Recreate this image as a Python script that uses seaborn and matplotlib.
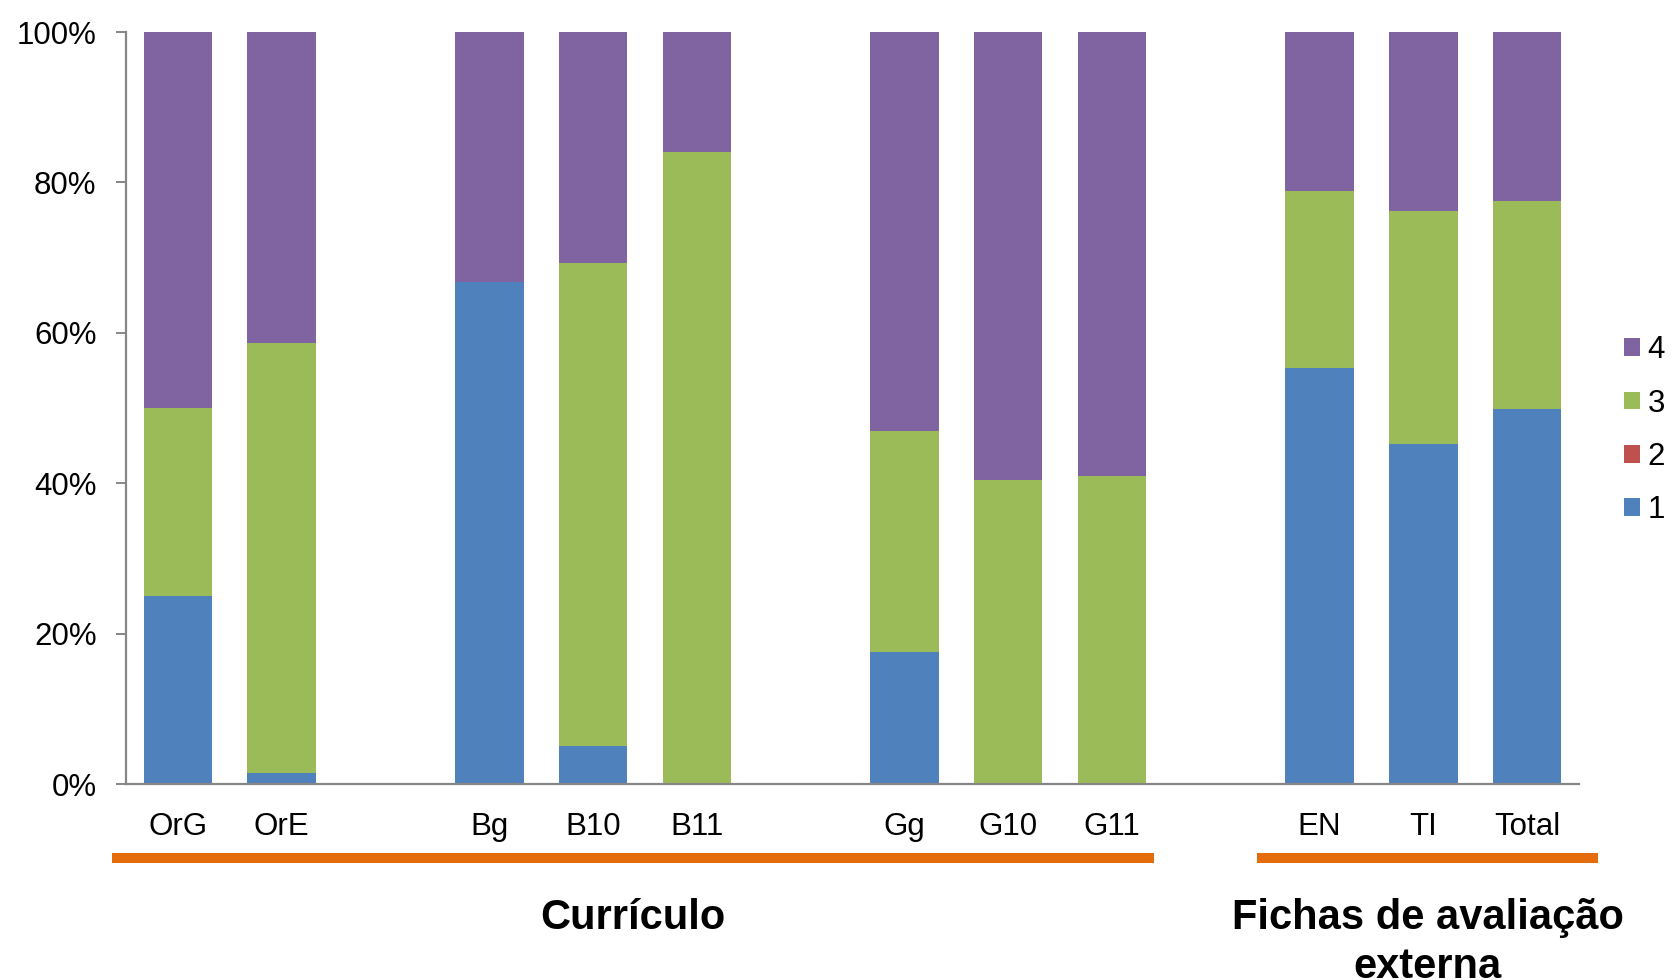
import numpy as np
import pandas as pd
import seaborn as sns
import matplotlib.pyplot as plt
from matplotlib.patches import Patch
from matplotlib.transforms import blended_transform_factory

# Categories (blank slots separate the groups on the axis)
categories = ["OrG", "OrE", "Bg", "B10", "B11", "Gg", "G10", "G11", "EN", "TI", "Total"]
order = ["OrG", "OrE", " ", "Bg", "B10", "B11", "  ", "Gg", "G10", "G11", "   ", "EN", "TI", "Total"]

# Share of each level (%) per category
level1 = [25.0, 1.4, 66.7, 5.0, 0.0, 17.6, 0.0, 0.0, 55.3, 45.2, 49.9]
level2 = [0.0, 0.0, 0.0, 0.0, 0.0, 0.0, 0.0, 0.0, 0.0, 0.0, 0.0]
level3 = [25.0, 57.2, 0.0, 64.3, 84.0, 29.4, 40.4, 41.0, 23.6, 31.0, 27.6]
level4 = [50.0, 41.4, 33.3, 30.7, 16.0, 53.0, 59.6, 59.0, 21.1, 23.8, 22.5]

levels = ["1", "2", "3", "4"]
colors = {"1": "#4F81BD", "2": "#C0504D", "3": "#9BBB59", "4": "#8064A2"}

group_names = ["Currículo", "Fichas de avaliação\nexterna"]
group_members = [["OrG", "G11"], ["EN", "Total"]]

sns.set_theme(style="white")
plt.rcParams["font.family"] = ["Liberation Sans", "DejaVu Sans"]
plt.rcParams["text.color"] = "black"

df = pd.DataFrame({"cat": categories, "1": level1, "2": level2, "3": level3, "4": level4})
cum = df[levels].cumsum(axis=1)

fig = plt.figure(figsize=(16.76, 9.8), dpi=100)
ax = fig.add_axes([0.0752, 0.2, 0.8669, 0.7673])

# Stacked bars: draw cumulative totals from the top level down
for lvl in reversed(levels):
    sns.barplot(x=df["cat"], y=cum[lvl], order=order, color=colors[lvl],
                saturation=1, width=0.66, linewidth=0, ax=ax)

ax.set_ylim(0, 100)
ax.set_xlim(-0.5, len(order) - 0.5)
ax.set_yticks(np.arange(0, 101, 20))
ax.set_yticklabels([f"{v}%" for v in range(0, 101, 20)])
ax.set_xlabel("")
ax.set_ylabel("")

axis_grey = "#868686"
for side in ["top", "right"]:
    ax.spines[side].set_visible(False)
for side in ["left", "bottom"]:
    ax.spines[side].set_color(axis_grey)
    ax.spines[side].set_linewidth(1.6)
ax.tick_params(axis="y", which="major", left=True, length=7.2, width=1.4,
               color=axis_grey, pad=14, labelsize=22.5, labelcolor="black")
ax.tick_params(axis="x", length=0, pad=20, labelsize=22.5, labelcolor="black")

# Group brackets and labels under the category axis
trans = blended_transform_factory(ax.transData, ax.transAxes)
bracket_pads = [(0.64, 0.41), (0.60, 0.68)]
for name, (first, last), (pl, pr) in zip(group_names, group_members, bracket_pads):
    x0 = order.index(first) - pl
    x1 = order.index(last) + pr
    ax.plot([x0, x1], [-0.098, -0.098], transform=trans, color="#E46C0A",
            linewidth=7.2, solid_capstyle="butt", clip_on=False)
    ax.text((x0 + x1) / 2, -0.151, name, transform=trans, ha="center",
            va="top", fontsize=30, fontweight="bold", linespacing=1.3,
            color="black", clip_on=False)

# Legend, top level first
handles = [Patch(facecolor=colors[l], edgecolor="none", label=l) for l in reversed(levels)]
ax.legend(handles=handles, loc="center left", bbox_to_anchor=(0.969, 0.561),
          bbox_transform=fig.transFigure, frameon=False, fontsize=22.5,
          handlelength=0.5, handleheight=0.5, handletextpad=0.25,
          labelspacing=0.75, borderpad=0, borderaxespad=0, labelcolor="black")

fig.savefig("out.png", dpi=100)
